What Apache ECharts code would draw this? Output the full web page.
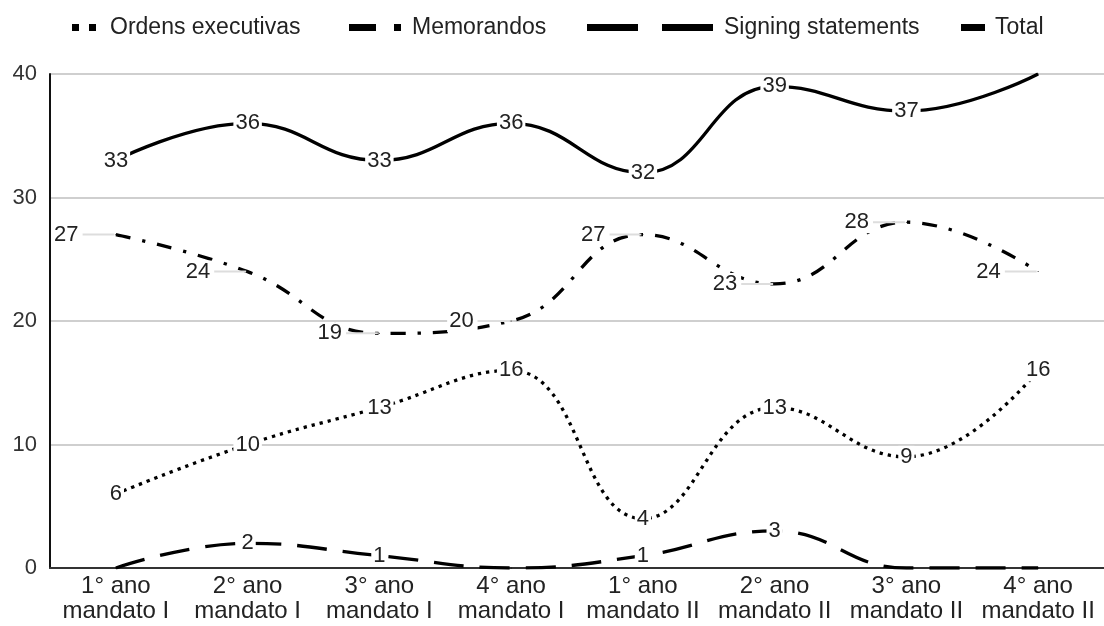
<!DOCTYPE html>
<html>
<head>
<meta charset="utf-8">
<script src="https://cdn.jsdelivr.net/npm/echarts@6/dist/echarts.min.js"></script>
<style>
  html, body { margin: 0; padding: 0; background: #fff; }
  #chart { width: 1104px; height: 626px; }
</style>
</head>
<body>
<div id="chart"></div>
<script>
// Categories: year of each presidential term
const categories = [
  '1° ano\nmandato I', '2° ano\nmandato I', '3° ano\nmandato I', '4° ano\nmandato I',
  '1° ano\nmandato II', '2° ano\nmandato II', '3° ano\nmandato II', '4° ano\nmandato II'
];
const ordensExecutivas = [6, 10, 13, 16, 4, 13, 9, 16];
const memorandos = [27, 24, 19, 20, 27, 23, 28, 24];
const signingStatements = [0, 2, 1, 0, 1, 3, 0, 0];
const total = [33, 36, 33, 36, 32, 39, 37, 40];
const yTicks = { min: 0, max: 40, interval: 10 };

const FONT = '"Liberation Sans", Arial, sans-serif';
const INK = '#000';
const LINE_W = 3.3;

// Value label centred on the point, knocking out the line behind it
const centredLabel = {
  show: true,
  position: 'inside',
  fontFamily: FONT,
  fontSize: 22,
  color: '#222',
  backgroundColor: '#fff',
  padding: [0, 2]
};

const lineBase = {
  type: 'line',
  smooth: 0.45,
  symbol: 'circle',
  symbolSize: 1,
  showSymbol: true,
  itemStyle: { color: INK },
  emphasis: { disabled: true },
  z: 3
};

function legendItem(name, icon, w, left, textPad) {
  return {
    data: [{ name: name, icon: icon }],
    left: left,
    top: 11,
    itemWidth: w,
    itemHeight: 7,
    selectedMode: false,
    textStyle: {
      fontFamily: FONT,
      fontSize: 23,
      color: '#222',
      lineHeight: 23,
      padding: [0, 0, 0, textPad]
    }
  };
}

const chart = echarts.init(document.getElementById('chart'), null, { renderer: 'canvas' });

chart.setOption({
  animation: false,
  backgroundColor: '#fff',
  legend: [
    legendItem('Ordens executivas', 'path://M0,0h7v7h-7zM17,0h7v7h-7z', 24, 67, 9),
    legendItem('Memorandos', 'path://M0,0h27v7h-27zM45,0h7v7h-7z', 52, 344, 6),
    legendItem('Signing statements', 'path://M0,0h51v7h-51zM75,0h51v7h-51z', 126, 582, 6),
    legendItem('Total', 'path://M0,0h24v7h-24z', 24, 956, 5)
  ],
  grid: { left: 50, top: 74, width: 1072, height: 494, containLabel: false },
  xAxis: {
    type: 'category',
    data: categories,
    boundaryGap: true,
    axisTick: { show: false },
    axisLine: { show: true, onZero: true, lineStyle: { color: '#333', width: 2 } },
    axisLabel: {
      fontFamily: FONT,
      fontSize: 24,
      color: '#222',
      lineHeight: 25,
      margin: 6,
      interval: 0
    }
  },
  yAxis: {
    type: 'value',
    min: yTicks.min,
    max: yTicks.max,
    interval: yTicks.interval,
    axisLine: { show: true, lineStyle: { color: '#111', width: 2 } },
    axisTick: { show: false },
    splitLine: { lineStyle: { color: '#cfcfcf', width: 2 } },
    axisLabel: {
      fontFamily: FONT,
      fontSize: 22,
      color: '#333',
      margin: 13
    }
  },
  series: [
    Object.assign({}, lineBase, {
      name: 'Ordens executivas',
      data: ordensExecutivas,
      lineStyle: { color: INK, width: LINE_W, type: [3.3, 5], cap: 'butt' },
      label: centredLabel
    }),
    Object.assign({}, lineBase, {
      name: 'Memorandos',
      data: memorandos,
      lineStyle: { color: INK, width: LINE_W, type: [15, 12, 3.3, 12], cap: 'butt' },
      label: {
        show: true,
        position: 'left',
        distance: 1,
        formatter: (p) => '{v|' + p.value + '}{l|}',
        rich: {
          v: {
            fontFamily: FONT,
            fontSize: 22,
            color: '#222',
            backgroundColor: '#fff',
            padding: [0, 4, 0, 2]
          },
          l: {
            width: 32,
            height: 2,
            backgroundColor: '#dddddd',
            verticalAlign: 'middle'
          }
        }
      }
    }),
    Object.assign({}, lineBase, {
      name: 'Signing statements',
      data: signingStatements,
      lineStyle: { color: INK, width: LINE_W, type: [30, 16], cap: 'butt' },
      label: Object.assign({}, centredLabel, {
        formatter: (p) => (p.value === 0 ? '' : String(p.value))
      })
    }),
    Object.assign({}, lineBase, {
      name: 'Total',
      // the last point's label would sit above the plot area, so it stays hidden
      data: total.map((v, i) => (i === total.length - 1 ? { value: v, label: { show: false } } : v)),
      lineStyle: { color: INK, width: LINE_W },
      label: centredLabel
    })
  ]
});
</script>
</body>
</html>
